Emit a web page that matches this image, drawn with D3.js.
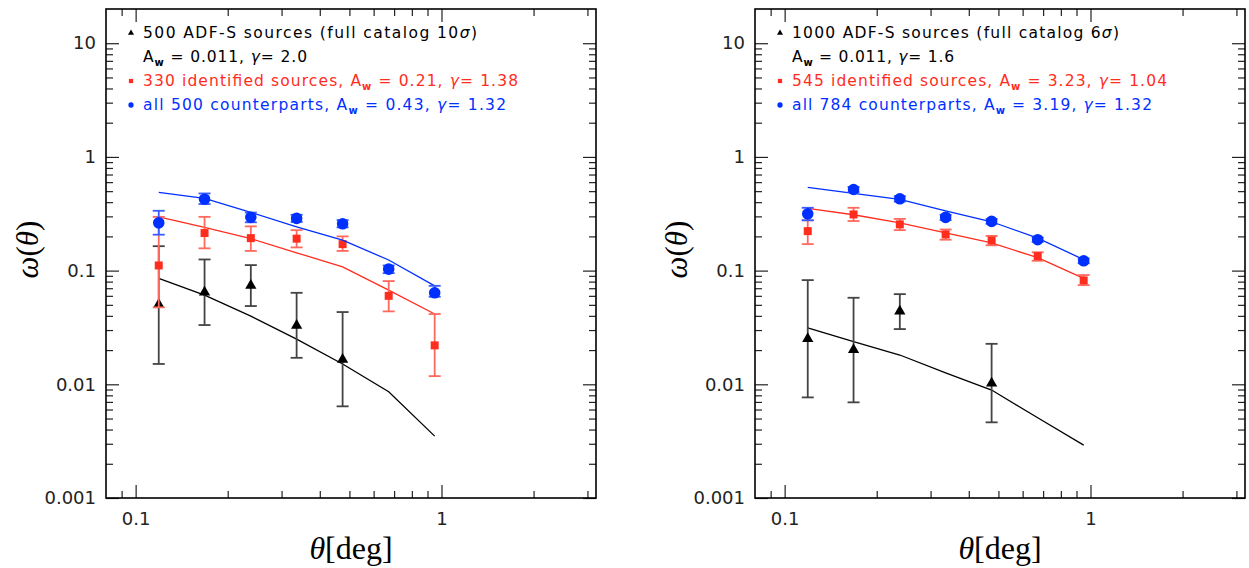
<!DOCTYPE html>
<html><head><meta charset="utf-8">
<script src="https://cdn.jsdelivr.net/npm/d3@7"></script>
<style>body{margin:0;background:#fff;} svg{display:block;}</style>
</head><body>
<svg id="chart" width="1249" height="568"></svg>
<script>
// ---- data ----
const theta = [0.119, 0.168, 0.238, 0.336, 0.475, 0.672, 0.950];

// left panel (10 sigma)
const leftBlue      = [0.263, 0.425, 0.294, 0.288, 0.258, 0.103, 0.0638];
const leftBlueLo    = [0.207, 0.385, 0.266, 0.268, 0.240, 0.095, 0.0589];
const leftBlueHi    = [0.336, 0.477, 0.324, 0.310, 0.278, 0.111, 0.0735];
const leftBlueModel = [0.487, 0.431, 0.325, 0.243, 0.185, 0.124, 0.0735];
const leftRed       = [0.111, 0.214, 0.193, 0.191, 0.171, 0.060, 0.0220];
const leftRedLo     = [0.0475, 0.157, 0.149, 0.160, 0.149, 0.0438, 0.0118];
const leftRedHi     = [0.297, 0.297, 0.245, 0.227, 0.200, 0.0809, 0.0415];
const leftRedModel  = [0.297, 0.240, 0.191, 0.1435, 0.108, 0.0674, 0.0415];
const leftBlackIdx  = [0, 1, 2, 3, 4];
const leftBlack     = [0.0508, 0.0652, 0.0746, 0.0332, 0.0167];
const leftBlackLo   = [0.0151, 0.0332, 0.0488, 0.0171, 0.0064];
const leftBlackHi   = [0.164, 0.1253, 0.1118, 0.0638, 0.0432];
const leftBlackModel= [0.0853, 0.0609, 0.0398, 0.0250, 0.0151, 0.0086, 0.0035];
const leftLegend = [
  ["500 ADF-S sources (full catalog 10", "σ", ")"],
  ["0.011", "2.0"],
  ["330 identified sources, ", "0.21", "1.38"],
  ["all 500 counterparts, ", "0.43", "1.32"]
];

// right panel (6 sigma)
const rightBlue      = [0.316, 0.517, 0.428, 0.294, 0.271, 0.187, 0.122];
const rightBlueLo    = [0.277, 0.490, 0.405, 0.278, 0.258, 0.179, 0.116];
const rightBlueHi    = [0.357, 0.545, 0.452, 0.310, 0.285, 0.195, 0.128];
const rightBlueModel = [0.539, 0.477, 0.423, 0.336, 0.269, 0.193, 0.125];
const rightRed       = [0.2225, 0.312, 0.255, 0.208, 0.184, 0.134, 0.082];
const rightRedLo     = [0.171, 0.273, 0.227, 0.187, 0.167, 0.122, 0.0745];
const rightRedHi     = [0.277, 0.357, 0.285, 0.230, 0.202, 0.145, 0.0914];
const rightRedModel  = [0.352, 0.310, 0.263, 0.215, 0.175, 0.130, 0.0853];
const rightBlackIdx  = [0, 1, 2, 4];
const rightBlack     = [0.0254, 0.0203, 0.0443, 0.0103];
const rightBlackLo   = [0.00767, 0.00694, 0.0306, 0.00463];
const rightBlackHi   = [0.0825, 0.0577, 0.0621, 0.0227];
const rightBlackModel= [0.0314, 0.0237, 0.0181, 0.0126, 0.0089, 0.00508, 0.00292];
const rightLegend = [
  ["1000 ADF-S sources (full catalog 6", "σ", ")"],
  ["0.011", "1.6"],
  ["545 identified sources, ", "3.23", "1.04"],
  ["all 784 counterparts, ", "3.19", "1.32"]
];

const yMajor = [0.001, 0.01, 0.1, 1, 10];
const yMajorLabels = ["0.001", "0.01", "0.1", "1", "10"];
const xMajor = [0.1, 1];
const xMajorLabels = ["0.1", "1"];

// ---- drawing ----
const svg = d3.select("#chart");
const RED = "#ff2d1e", BLUE = "#0030ff", BLACK = "#000";
const topY = 9, bottomY = 498, pw = 490;

const yMinor = [];
[-3, -2, -1, 0, 1].forEach(e => { for (let k = 2; k <= 9; k++) { const v = k * Math.pow(10, e); if (v < 20) yMinor.push(v); } });
const xMinor = [0.09, 0.2, 0.3, 0.4, 0.5, 0.6, 0.7, 0.8, 0.9, 2, 3];

function panel(left, d) {
  const x = d3.scaleLog().domain([0.08, 3.2]).range([left, left + pw]);
  const y = d3.scaleLog().domain([0.001, 20]).range([bottomY, topY]);
  const g = svg.append("g");

  function drawAxis(gen, tr, maj, min, labs, showLab, padding) {
    const a1 = g.append("g").attr("transform", tr)
      .call(gen.tickValues(maj).tickSize(-13).tickPadding(padding)
        .tickFormat((v, i) => showLab ? labs[i] : ""));
    const a2 = g.append("g").attr("transform", tr)
      .call(gen.tickValues(min).tickSize(-7).tickFormat(() => ""));
    [a1, a2].forEach(a => {
      a.select(".domain").remove();
      a.selectAll(".tick line").attr("stroke", "#222").attr("stroke-width", 1.2);
      a.selectAll(".tick text").attr("font-family", "DejaVu Sans, sans-serif")
        .attr("font-size", 18).attr("fill", "#222");
    });
  }
  drawAxis(d3.axisBottom(x), `translate(0,${bottomY})`, xMajor, xMinor, xMajorLabels, true, 14);
  drawAxis(d3.axisTop(x), `translate(0,${topY})`, xMajor, xMinor, xMajorLabels, false, 4);
  drawAxis(d3.axisLeft(y), `translate(${left},0)`, yMajor, yMinor, yMajorLabels, true, 10);
  drawAxis(d3.axisRight(y), `translate(${left + pw},0)`, yMajor, yMinor, yMajorLabels, false, 4);

  g.append("rect").attr("x", left).attr("y", topY).attr("width", pw).attr("height", bottomY - topY)
    .attr("fill", "none").attr("stroke", "#000").attr("stroke-width", 1.6);

  // axis titles
  const xt = g.append("text").attr("x", left + pw / 2).attr("y", 559).attr("text-anchor", "middle")
    .attr("font-family", "Liberation Serif, DejaVu Serif, serif").attr("font-size", 32).attr("fill", "#000");
  xt.append("tspan").attr("font-style", "italic").text("θ");
  xt.append("tspan").text("[deg]");
  const yt = g.append("text").attr("transform", `translate(${left - 68},${(topY + bottomY) / 2 - 4}) rotate(-90)`)
    .attr("text-anchor", "middle")
    .attr("font-family", "Liberation Serif, DejaVu Serif, serif").attr("font-size", 31).attr("fill", "#000");
  yt.append("tspan").attr("font-style", "italic").text("ω");
  yt.append("tspan").text("(");
  yt.append("tspan").attr("font-style", "italic").text("θ");
  yt.append("tspan").text(")");

  const line = d3.line().x((v, i) => x(theta[i])).y(v => y(v));
  function series(model, idx, vals, lo, hi, color, errColor, shape, size) {
    g.append("path").datum(model).attr("d", line).attr("fill", "none")
      .attr("stroke", color).attr("stroke-width", 1.3);
    const eg = g.append("g").attr("stroke", errColor).attr("stroke-width", 1.8).attr("fill", "none");
    idx.forEach((ti, k) => {
      const cx = x(theta[ti]);
      eg.append("line").attr("x1", cx).attr("x2", cx).attr("y1", y(lo[k])).attr("y2", y(hi[k]));
      [lo[k], hi[k]].forEach(v => eg.append("line").attr("x1", cx - 6).attr("x2", cx + 6)
        .attr("y1", y(v)).attr("y2", y(v)));
    });
    const sym = d3.symbol().type(shape).size(size);
    g.append("g").selectAll("path").data(idx).join("path")
      .attr("transform", (ti, k) => `translate(${x(theta[ti])},${y(vals[k]) + (shape === d3.symbolTriangle ? 0.5 : 0)})`)
      .attr("d", sym).attr("fill", color);
  }
  const all = [0, 1, 2, 3, 4, 5, 6];
  series(d.blackModel, d.blackIdx, d.black, d.blackLo, d.blackHi, BLACK, "#444", d3.symbolTriangle, 55);
  series(d.redModel, all, d.red, d.redLo, d.redHi, RED, "#ff6a5e", d3.symbolSquare, 64);
  series(d.blueModel, all, d.blue, d.blueLo, d.blueHi, BLUE, "#3a5cff", d3.symbolCircle, 105);

  // legend
  const lx = left + 37, mx = left + 25;
  const lg = g.append("g").attr("font-family", "DejaVu Sans, sans-serif").attr("font-size", 15.5);
  const L = d.legend;
  function aw(t) {
    t.append("tspan").text("A");
    t.append("tspan").attr("font-size", 10).attr("font-weight", "bold").attr("dy", 4).text("w");
    t.append("tspan").attr("dy", -4).text(" = ");
  }
  let t = lg.append("text").attr("x", lx).attr("y", 38).attr("fill", BLACK).attr("textLength", d.widths[0]).attr("lengthAdjust", "spacing");
  t.append("tspan").text(L[0][0]); t.append("tspan").attr("font-style", "italic").text(L[0][1]); t.append("tspan").text(L[0][2]);
  t = lg.append("text").attr("x", lx).attr("y", 62).attr("fill", BLACK).attr("textLength", d.widths[1]).attr("lengthAdjust", "spacing");
  aw(t); t.append("tspan").text(L[1][0] + ", "); t.append("tspan").attr("font-style", "italic").text("γ"); t.append("tspan").text("= " + L[1][1]);
  [[2, 86, RED], [3, 110, BLUE]].forEach(([li, yy, col]) => {
    const tt = lg.append("text").attr("x", lx).attr("y", yy).attr("fill", col).attr("textLength", d.widths[li]).attr("lengthAdjust", "spacing");
    tt.append("tspan").text(L[li][0]); aw(tt);
    tt.append("tspan").text(L[li][1] + ", "); tt.append("tspan").attr("font-style", "italic").text("γ");
    tt.append("tspan").text("= " + L[li][2]);
  });
  lg.append("path").attr("transform", `translate(${mx},33)`).attr("d", d3.symbol().type(d3.symbolTriangle).size(16)).attr("fill", BLACK);
  lg.append("path").attr("transform", `translate(${mx},81)`).attr("d", d3.symbol().type(d3.symbolSquare).size(18)).attr("fill", RED);
  lg.append("path").attr("transform", `translate(${mx},105)`).attr("d", d3.symbol().type(d3.symbolCircle).size(22)).attr("fill", BLUE);
}

panel(106, {
  blue: leftBlue, blueLo: leftBlueLo, blueHi: leftBlueHi, blueModel: leftBlueModel,
  red: leftRed, redLo: leftRedLo, redHi: leftRedHi, redModel: leftRedModel,
  blackIdx: leftBlackIdx, black: leftBlack, blackLo: leftBlackLo, blackHi: leftBlackHi, blackModel: leftBlackModel,
  legend: leftLegend, widths: [334, 164, 375, 363]
});
panel(755, {
  blue: rightBlue, blueLo: rightBlueLo, blueHi: rightBlueHi, blueModel: rightBlueModel,
  red: rightRed, redLo: rightRedLo, redHi: rightRedHi, redModel: rightRedModel,
  blackIdx: rightBlackIdx, black: rightBlack, blackLo: rightBlackLo, blackHi: rightBlackHi, blackModel: rightBlackModel,
  legend: rightLegend, widths: [327, 162, 375, 360]
});
</script>
</body></html>
